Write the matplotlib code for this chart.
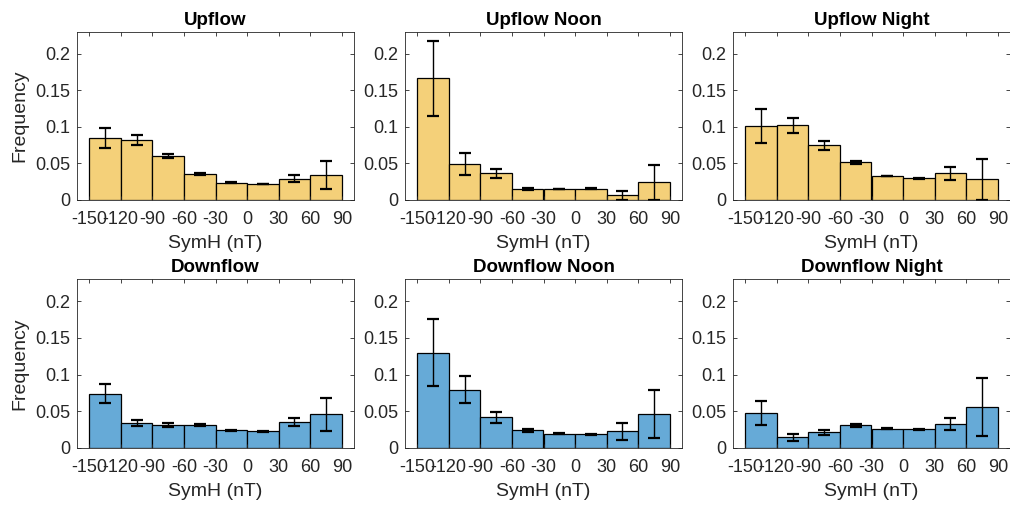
import matplotlib
matplotlib.use("Agg")
import matplotlib.pyplot as plt
import numpy as np

plt.rcParams['font.family'] = ['Liberation Sans', 'DejaVu Sans']

bin_edges = [-150, -120, -90, -60, -30, 0, 30, 60, 90]
xtick_vals = [-150, -120, -90, -60, -30, 0, 30, 60, 90]
ytick_vals = [0, 0.05, 0.1, 0.15, 0.2]
ytick_labels = ['0', '0.05', '0.1', '0.15', '0.2']

titles = ['Upflow', 'Upflow Noon', 'Upflow Night',
          'Downflow', 'Downflow Noon', 'Downflow Night']

up_all = [0.085, 0.082, 0.060, 0.036, 0.0235, 0.022, 0.029, 0.034]
up_all_err = [0.0135, 0.0065, 0.003, 0.0012, 0.0005, 0.0005, 0.0048, 0.0192]
up_noon = [0.1667, 0.0493, 0.0365, 0.0155, 0.0151, 0.0155, 0.0064, 0.0242]
up_noon_err = [0.0511, 0.0144, 0.0066, 0.0015, 0.0006, 0.001, 0.0058, 0.0236]
up_night = [0.1009, 0.1023, 0.0749, 0.0516, 0.0329, 0.0297, 0.0365, 0.0283]
up_night_err = [0.0235, 0.0105, 0.006, 0.0023, 0.0006, 0.0008, 0.0085, 0.028]
down_all = [0.074, 0.0338, 0.031, 0.031, 0.0242, 0.0228, 0.0352, 0.0457]
down_all_err = [0.0128, 0.0043, 0.0027, 0.001, 0.0005, 0.0006, 0.0055, 0.0224]
down_noon = [0.1297, 0.0795, 0.042, 0.0242, 0.0196, 0.0187, 0.0228, 0.0466]
down_noon_err = [0.0459, 0.018, 0.0073, 0.002, 0.0006, 0.0008, 0.0114, 0.0324]
down_night = [0.0475, 0.0146, 0.0215, 0.031, 0.0265, 0.0256, 0.0324, 0.0557]
down_night_err = [0.0167, 0.0046, 0.0032, 0.0021, 0.0005, 0.0006, 0.0078, 0.0393]

series = [(up_all, up_all_err), (up_noon, up_noon_err), (up_night, up_night_err),
          (down_all, down_all_err), (down_noon, down_noon_err), (down_night, down_night_err)]

yellow = '#F4D079'
blue = '#66AAD7'
axcol = '#262626'

fig = plt.figure(figsize=(10.1, 5.05), dpi=100)

lefts = [77, 405, 733]
W, H = 1010, 505

edges = np.array(bin_edges)
centers = (edges[:-1] + edges[1:]) / 2
widths = np.diff(edges)

for i, (vals, errs) in enumerate(series):
    row, col = divmod(i, 3)
    if row == 0:
        top, bot = 32, 200
    else:
        top, bot = 279, 448
    ax = fig.add_axes([lefts[col] / W, 1 - bot / H, 277 / W, (bot - top) / H])
    color = yellow if row == 0 else blue
    ax.bar(edges[:-1], vals, width=widths, align='edge', color=color,
           edgecolor='black', linewidth=0.9)
    ax.errorbar(centers, vals, yerr=errs, fmt='none', ecolor='black',
                elinewidth=1.0, capsize=4, capthick=1.6)
    ax.set_xlim(-161.5, 101.5)
    ax.set_ylim(0, 0.23)
    ax.set_xticks(xtick_vals)
    ax.set_xticklabels([str(v) for v in xtick_vals])
    ax.set_yticks(ytick_vals)
    ax.set_yticklabels(ytick_labels)
    ax.tick_params(direction='in', top=True, right=True, length=3,
                   width=0.6, colors=axcol, labelsize=13, pad=5)
    ax.tick_params(axis='x', pad=8)
    for sp in ax.spines.values():
        sp.set_color(axcol)
        sp.set_linewidth(0.6)
    ax.set_title(titles[i], fontsize=13.5, fontweight='bold', pad=5)
    ax.set_xlabel('SymH (nT)', fontsize=14, color=axcol, labelpad=5)
    if col == 0:
        ax.set_ylabel('Frequency', fontsize=14, color=axcol, labelpad=5)

fig.savefig('out.png', dpi=100)
